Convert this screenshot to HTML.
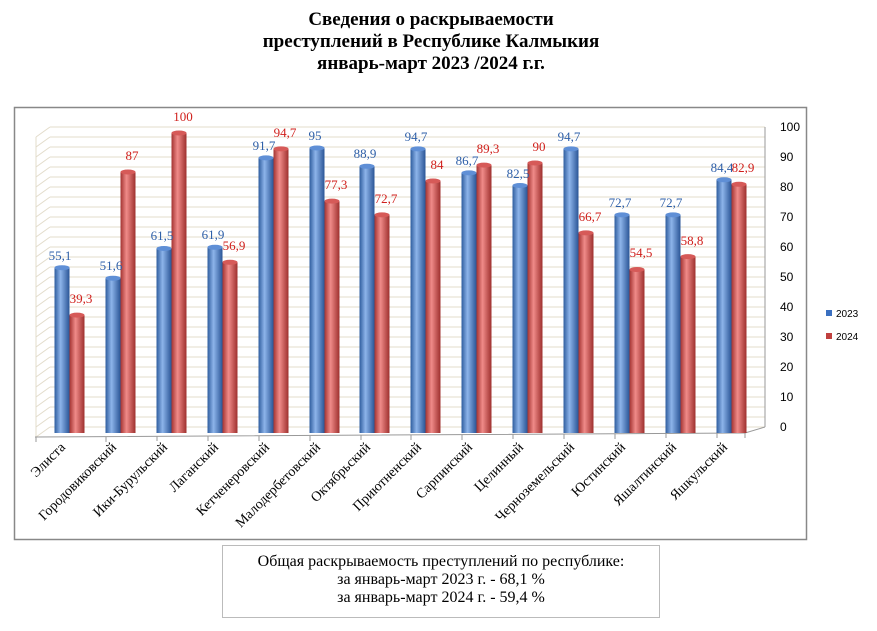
<!DOCTYPE html>
<html><head><meta charset="utf-8"><style>
body{margin:0;background:#fff;width:877px;height:626px;overflow:hidden;font-family:"Liberation Serif",serif}
</style></head><body>
<svg width="877" height="626" xmlns="http://www.w3.org/2000/svg" font-family="Liberation Serif, serif">
<defs>
<linearGradient id="b" x1="0" x2="1"><stop offset="0" stop-color="#2f5d9e"/><stop offset="0.4" stop-color="#8db4ea"/><stop offset="1" stop-color="#2a5596"/></linearGradient>
<linearGradient id="r" x1="0" x2="1"><stop offset="0" stop-color="#a33331"/><stop offset="0.4" stop-color="#f08b89"/><stop offset="1" stop-color="#9e302e"/></linearGradient>
</defs>
<g font-weight="bold" font-size="19" text-anchor="middle" fill="#000">
<text x="431" y="25">Сведения о раскрываемости</text>
<text x="431" y="47">преступлений в  Республике Калмыкия</text>
<text x="431" y="69">январь-март 2023 /2024 г.г.</text>
</g>
<rect x="14.5" y="107.5" width="792" height="432" fill="#fff" stroke="#888" stroke-width="1.5"/>
<g stroke="#e3dccb" stroke-width="1">
<path d="M50 127H765M50 137H765M50 147H765M50 157H765M50 167H765M50 177H765M50 187H765M50 197H765M50 207H765M50 217H765M50 227H765M50 237H765M50 247H765M50 257H765M50 267H765M50 277H765M50 287H765M50 297H765M50 307H765M50 317H765M50 327H765M50 337H765M50 347H765M50 357H765M50 367H765M50 377H765M50 387H765M50 397H765M50 407H765M50 417H765M50 427H765"/>
<path d="M36 137L50 127M36 147L50 137M36 157L50 147M36 167L50 157M36 177L50 167M36 187L50 177M36 197L50 187M36 207L50 197M36 217L50 207M36 227L50 217M36 237L50 227M36 247L50 237M36 257L50 247M36 267L50 257M36 277L50 267M36 287L50 277M36 297L50 287M36 307L50 297M36 317L50 307M36 327L50 317M36 337L50 327M36 347L50 337M36 357L50 347M36 367L50 357M36 377L50 367M36 387L50 377M36 397L50 387M36 407L50 397M36 417L50 407M36 427L50 417M36 437L50 427M36 137V437"/>
</g>
<path d="M35 437 L745 433 L765 427" fill="none" stroke="#999"/>
<line x1="765" y1="127" x2="765" y2="427" stroke="#999"/>
<g font-family="Liberation Sans, sans-serif" font-size="12" fill="#000">
<text x="780" y="431">0</text><text x="780" y="401">10</text><text x="780" y="371">20</text><text x="780" y="341">30</text><text x="780" y="311">40</text><text x="780" y="281">50</text><text x="780" y="251">60</text><text x="780" y="221">70</text><text x="780" y="191">80</text><text x="780" y="161">90</text><text x="780" y="131">100</text>
</g>
<g stroke="#999">
<path d="M36 437v5M106 437v5M157 436v5M208 436v5M259 436v5M310 436v5M361 435v5M411 435v5M462 435v5M513 434v5M564 434v5M615 434v5M666 433v5M717 433v5M745 433v5"/>
</g>
<g fill="url(#b)">
<rect x="54.5" y="267.7" width="15" height="165.3"/>
<rect x="105.5" y="278.2" width="15" height="154.8"/>
<rect x="156.5" y="248.5" width="15" height="184.5"/>
<rect x="207.5" y="247.3" width="15" height="185.7"/>
<rect x="258.5" y="157.9" width="15" height="275.1"/>
<rect x="309.5" y="148" width="15" height="285"/>
<rect x="359.5" y="166.3" width="15" height="266.7"/>
<rect x="410.5" y="148.9" width="15" height="284.1"/>
<rect x="461.5" y="172.9" width="15" height="260.1"/>
<rect x="512.5" y="185.5" width="15" height="247.5"/>
<rect x="563.5" y="148.9" width="15" height="284.1"/>
<rect x="614.5" y="214.9" width="15" height="218.1"/>
<rect x="665.5" y="214.9" width="15" height="218.1"/>
<rect x="716.5" y="179.8" width="15" height="253.2"/>
</g>
<g fill="#5f8fd6">
<ellipse cx="62" cy="267.7" rx="7.5" ry="2.5"/><ellipse cx="113" cy="278.2" rx="7.5" ry="2.5"/><ellipse cx="164" cy="248.5" rx="7.5" ry="2.5"/><ellipse cx="215" cy="247.3" rx="7.5" ry="2.5"/><ellipse cx="266" cy="157.9" rx="7.5" ry="2.5"/><ellipse cx="317" cy="148" rx="7.5" ry="2.5"/><ellipse cx="367" cy="166.3" rx="7.5" ry="2.5"/><ellipse cx="418" cy="148.9" rx="7.5" ry="2.5"/><ellipse cx="469" cy="172.9" rx="7.5" ry="2.5"/><ellipse cx="520" cy="185.5" rx="7.5" ry="2.5"/><ellipse cx="571" cy="148.9" rx="7.5" ry="2.5"/><ellipse cx="622" cy="214.9" rx="7.5" ry="2.5"/><ellipse cx="673" cy="214.9" rx="7.5" ry="2.5"/><ellipse cx="724" cy="179.8" rx="7.5" ry="2.5"/>
</g>
<g fill="url(#r)">
<rect x="69.5" y="315.1" width="15" height="117.9"/>
<rect x="120.5" y="172" width="15" height="261"/>
<rect x="171.5" y="133" width="15" height="300"/>
<rect x="222.5" y="262.3" width="15" height="170.7"/>
<rect x="273.5" y="148.9" width="15" height="284.1"/>
<rect x="324.5" y="201.1" width="15" height="231.9"/>
<rect x="374.5" y="214.9" width="15" height="218.1"/>
<rect x="425.5" y="181" width="15" height="252"/>
<rect x="476.5" y="165.1" width="15" height="267.9"/>
<rect x="527.5" y="163" width="15" height="270"/>
<rect x="578.5" y="232.9" width="15" height="200.1"/>
<rect x="629.5" y="269.5" width="15" height="163.5"/>
<rect x="680.5" y="256.6" width="15" height="176.4"/>
<rect x="731.5" y="184.3" width="15" height="248.7"/>
</g>
<g fill="#d65a58">
<ellipse cx="77" cy="315.1" rx="7.5" ry="2.5"/><ellipse cx="128" cy="172" rx="7.5" ry="2.5"/><ellipse cx="179" cy="133" rx="7.5" ry="2.5"/><ellipse cx="230" cy="262.3" rx="7.5" ry="2.5"/><ellipse cx="281" cy="148.9" rx="7.5" ry="2.5"/><ellipse cx="332" cy="201.1" rx="7.5" ry="2.5"/><ellipse cx="382" cy="214.9" rx="7.5" ry="2.5"/><ellipse cx="433" cy="181" rx="7.5" ry="2.5"/><ellipse cx="484" cy="165.1" rx="7.5" ry="2.5"/><ellipse cx="535" cy="163" rx="7.5" ry="2.5"/><ellipse cx="586" cy="232.9" rx="7.5" ry="2.5"/><ellipse cx="637" cy="269.5" rx="7.5" ry="2.5"/><ellipse cx="688" cy="256.6" rx="7.5" ry="2.5"/><ellipse cx="739" cy="184.3" rx="7.5" ry="2.5"/>
</g>
<g font-size="13" text-anchor="middle" fill="#2e5fa8">
<text x="60" y="260">55,1</text><text x="111" y="270">51,6</text><text x="162" y="240">61,5</text><text x="213" y="239">61,9</text><text x="264" y="150">91,7</text><text x="315" y="140">95</text><text x="365" y="158">88,9</text><text x="416" y="141">94,7</text><text x="467" y="165">86,7</text><text x="518" y="178">82,5</text><text x="569" y="141">94,7</text><text x="620" y="207">72,7</text><text x="671" y="207">72,7</text><text x="722" y="172">84,4</text>
</g>
<g font-size="13" text-anchor="middle" fill="#d0201c">
<text x="81" y="303">39,3</text><text x="132" y="160">87</text><text x="183" y="121">100</text><text x="234" y="250">56,9</text><text x="285" y="137">94,7</text><text x="336" y="189">77,3</text><text x="386" y="203">72,7</text><text x="437" y="169">84</text><text x="488" y="153">89,3</text><text x="539" y="151">90</text><text x="590" y="221">66,7</text><text x="641" y="257">54,5</text><text x="692" y="245">58,8</text><text x="743" y="172">82,9</text>
</g>
<g font-size="14" text-anchor="end" fill="#000">
<text transform="translate(66,448) rotate(-45)">Элиста</text>
<text transform="translate(117,448) rotate(-45)">Городовиковский</text>
<text transform="translate(168,448) rotate(-45)">Ики-Бурульский</text>
<text transform="translate(219,448) rotate(-45)">Лаганский</text>
<text transform="translate(270,448) rotate(-45)">Кетченеровский</text>
<text transform="translate(321,448) rotate(-45)">Малодербетовский</text>
<text transform="translate(371,448) rotate(-45)">Октябрьский</text>
<text transform="translate(422,448) rotate(-45)">Приютненский</text>
<text transform="translate(473,448) rotate(-45)">Сарпинский</text>
<text transform="translate(524,448) rotate(-45)">Целинный</text>
<text transform="translate(575,448) rotate(-45)">Черноземельский</text>
<text transform="translate(626,448) rotate(-45)">Юстинский</text>
<text transform="translate(677,448) rotate(-45)">Яшалтинский</text>
<text transform="translate(728,448) rotate(-45)">Яшкульский</text>
</g>
<g font-family="Liberation Sans, sans-serif" font-size="10">
<rect x="826" y="310" width="6" height="6" fill="#3a6fc0"/><text x="836" y="317">2023</text>
<rect x="826" y="333" width="6" height="6" fill="#c0403e"/><text x="836" y="340">2024</text>
</g>
<rect x="222.5" y="545.5" width="437" height="72" fill="#fff" stroke="#bbb"/>
<g font-size="16" text-anchor="middle"><text x="441" y="566">Общая раскрываемость преступлений  по республике:</text>
<text x="441" y="584">за январь-март 2023 г. - 68,1 %</text><text x="441" y="602">за январь-март 2024 г. - 59,4 %</text></g>
</svg>
</body></html>
